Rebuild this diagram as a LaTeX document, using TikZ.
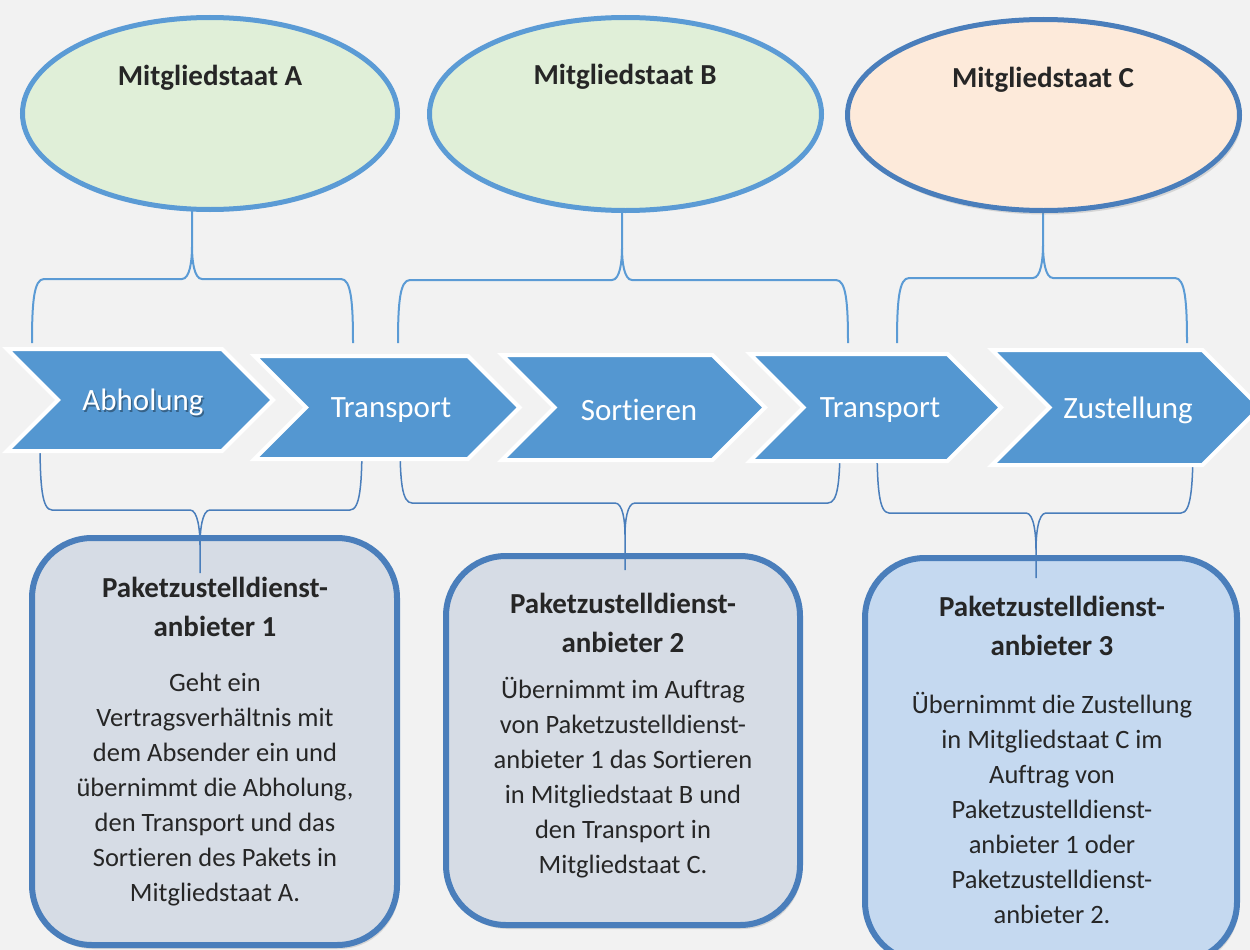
\documentclass[tikz,border=0pt]{standalone}
\usepackage{fontspec}
\setmainfont{Carlito}[Ligatures=NoCommon]
\usetikzlibrary{shapes.geometric,shadows}

\definecolor{bggray}{HTML}{F2F2F2}
\definecolor{stategreen}{HTML}{E0EFD8}
\definecolor{statepeach}{HTML}{FDEADA}
\definecolor{stateline}{HTML}{5B9BD5}
\definecolor{darkline}{HTML}{4A7EBB}
\definecolor{chevblue}{HTML}{5497D1}
\definecolor{boxgray}{HTML}{D6DCE5}
\definecolor{boxblue}{HTML}{C5D9F0}
\definecolor{textdark}{HTML}{262626}

%% curly bracket: x left, x right, x tip, y ends, y bar, y tip, style
\newcommand{\kbrace}[7]{%
  \draw[#7] (#1,#4) .. controls (#1,{#5+0.35*(#4-#5)}) and ({#1+2},#5) .. ({#1+12},#5)
    -- ({#3-10},#5) .. controls ({#3-2},#5) and (#3,{#5-0.3*(#4-#5)}) .. (#3,{#5-0.5*(#4-#5)})
    -- (#3,#6);
  \draw[#7] (#2,#4) .. controls (#2,{#5+0.35*(#4-#5)}) and ({#2-2},#5) .. ({#2-12},#5)
    -- ({#3+10},#5) .. controls ({#3+2},#5) and (#3,{#5-0.3*(#4-#5)}) .. (#3,{#5-0.5*(#4-#5)});
}

\begin{document}
\begin{tikzpicture}[x=1pt,y=-1pt,
    state/.style={ellipse,draw=stateline,line width=5pt,fill=stategreen,inner sep=0pt},
    statetitle/.style={text=textdark,font=\bfseries\fontsize{29}{35}\selectfont},
    chevron/.style={fill=chevblue,draw=white,line width=4pt,line join=miter},
    steplabel/.style={text=white,font=\fontsize{31}{37}\selectfont},
    pbox/.style={draw=darkline,line width=6pt,rounded corners=60pt,inner sep=0pt,
        drop shadow={shadow xshift=2pt,shadow yshift=-4pt,opacity=0.25}},
    boxtitle/.style={align=center,text=textdark,font=\bfseries\fontsize{29}{39}\selectfont},
    boxbody/.style={align=center,text=textdark,font=\fontsize{26.5}{35}\selectfont},
    topbrace/.style={stateline,line width=2pt},
    lowbrace/.style={darkline,line width=1.5pt}]
  \useasboundingbox (0,0) rectangle (1250,950);
  \clip (0,0) rectangle (1250,950);
  \fill[bggray] (0,0) rectangle (1250,950);

  %% provider boxes
  \node[pbox,fill=boxgray,minimum width=365pt,minimum height=407pt] (box1) at (214.5,741.5) {};
  \node[pbox,fill=boxgray,minimum width=354pt,minimum height=369pt] (box2) at (623,740.5) {};
  \node[pbox,fill=boxblue,minimum width=372pt,minimum height=404pt] (box3) at (1051,760) {};

  %% brackets
  \kbrace{32}{353}{192}{343}{279}{200}{topbrace}
  \kbrace{398}{848}{622}{343}{280}{200}{topbrace}
  \kbrace{897}{1187}{1043}{343}{278}{200}{topbrace}
  \kbrace{40}{362}{200}{440}{510}{573}{lowbrace}
  \kbrace{400}{840}{625}{440}{503}{570}{lowbrace}
  \kbrace{877}{1193}{1036}{440}{513}{578}{lowbrace}

  %% member states
  \node[state,minimum width=375pt,minimum height=192pt] (stateA) at (210,113.5) {};
  \node[state,minimum width=392pt,minimum height=193pt] (stateB) at (625.5,114) {};
  \node[state,draw=darkline,fill=statepeach,minimum width=392pt,minimum height=191pt,
      drop shadow={shadow xshift=2pt,shadow yshift=-4pt,opacity=0.25}] (stateC) at (1043.5,115) {};
  \node[statetitle] (titleA) at (210,78) {Mitgliedstaat A};
  \node[statetitle] (titleB) at (625,77) {Mitgliedstaat B};
  \node[statetitle] (titleC) at (1043,80) {Mitgliedstaat C};

  %% process chevrons
  \foreach \cx/\cy/\w/\h in {140/400/266/102, 387/407.5/265/103, 633.5/407.5/263/105,
      875.5/407.5/251/107, 1126/407.5/268/115}
    \draw[chevron] ({\cx-\w/2},{\cy-\h/2}) -- ({\cx+\w/2-\h/2},{\cy-\h/2}) -- ({\cx+\w/2},\cy)
      -- ({\cx+\w/2-\h/2},{\cy+\h/2}) -- ({\cx-\w/2},{\cy+\h/2}) -- ({\cx-\w/2+\h/2},\cy) -- cycle;
  \node[steplabel,text=black,opacity=0.35] (abhshade) at (144.5,404) {Abholung};
  \foreach \tx/\ty/\nm/\txt in {143/402.5/abh/Abholung, 391/410/trans1/Transport,
      639/410/sort/Sortieren, 880/410/trans2/Transport, 1128/410/zust/Zustellung}
    \node[steplabel] (\nm) at (\tx,\ty) {\txt};

  %% box texts
  \node[boxtitle] (title1) at (215,606.5) {Paketzustelldienst-\\anbieter 1};
  \node[boxbody] (body1) at (215,789.5) {Geht ein\\Vertragsverhältnis mit\\dem Absender ein und\\übernimmt die Abholung,\\den Transport und das\\Sortieren des Pakets in\\Mitgliedstaat A.};
  \node[boxtitle] (title2) at (623,623) {Paketzustelldienst-\\anbieter 2};
  \node[boxbody] (body2) at (623,778) {Übernimmt im Auftrag\\von Paketzustelldienst-\\anbieter 1 das Sortieren\\in Mitgliedstaat B und\\den Transport in\\Mitgliedstaat C.};
  \node[boxtitle] (title3) at (1052,625.5) {Paketzustelldienst-\\anbieter 3};
  \node[boxbody] (body3) at (1052,807.5) {Übernimmt die Zustellung\\in Mitgliedstaat C im\\Auftrag von\\Paketzustelldienst-\\anbieter 1 oder\\Paketzustelldienst-\\anbieter 2.};
\end{tikzpicture}
\end{document}
